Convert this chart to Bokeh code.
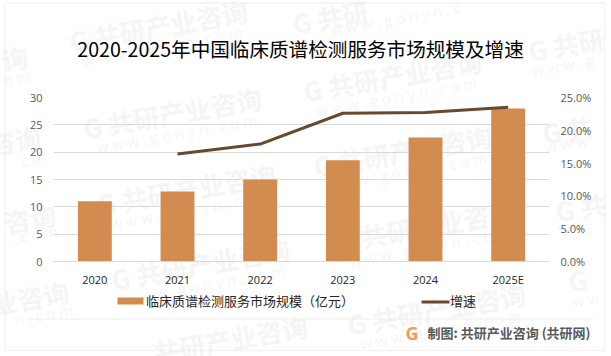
from bokeh.plotting import figure
from bokeh.layouts import column
from bokeh.models import (ColumnDataSource, FactorRange, Range1d, LinearAxis, NumeralTickFormatter,
                          Label, BoxAnnotation, Legend, LegendItem, FixedTicker)
from bokeh.embed import file_html
from bokeh.resources import INLINE

W, H = 611, 356
years = ["2020", "2021", "2022", "2023", "2024", "2025E"]
market = [11, 12.8, 15, 18.5, 22.7, 28]
growth_years = ["2021", "2022", "2023", "2024", "2025E"]
growth = [0.164, 0.179, 0.226, 0.227, 0.235]
left_ticks = [0, 5, 10, 15, 20, 25, 30]
right_ticks = [0, 0.05, 0.10, 0.15, 0.20, 0.25]
title = "2020-2025年中国临床质谱检测服务市场规模及增速"
bar_name = "临床质谱检测服务市场规模（亿元）"
line_name = "增速"
credit = "制图: 共研产业咨询 (共研网)"
WM = "G 共研产业咨询"
SUB = "w w w . g o n y n . c o m"
# watermark pieces: x, y, text, align, kind
watermarks = [
    (158, 25, WM, "center", "m"), (162, 46, SUB, "center", "s"),
    (172, 112, WM, "center", "m"), (176, 133, SUB, "center", "s"),
    (186, 188, WM, "center", "m"), (190, 209, SUB, "center", "s"),
    (200, 263, WM, "center", "m"), (204, 284, SUB, "center", "s"),
    (230, 338, "共研产业咨询", "center", "m"),
    (392, 75, WM, "center", "m"), (396, 96, SUB, "center", "s"),
    (402, 150, WM, "center", "m"), (406, 171, SUB, "center", "s"),
    (425, 225, WM, "center", "m"), (429, 246, SUB, "center", "s"),
    (436, 308, WM, "center", "m"), (440, 329, SUB, "center", "s"),
    (330, 16, "G 共研", "center", "m"), (395, 18, "w w w . g o n y n . c", "center", "s"),
    (528, 50, "G 共研", "left", "m"), (532, 70, "w w w . g", "left", "s"),
    (542, 133, "G 共", "left", "m"), (545, 147, "w w w", "left", "s"),
    (555, 211, "G 共", "left", "m"), (558, 228, "w w", "left", "s"),
    (568, 281, "G", "left", "m"), (572, 301, "w w", "left", "s"),
    (27, 55, "询", "right", "m"), (30, 75, "o m", "right", "s"),
    (40, 135, "咨询", "right", "m"), (40, 157, "c o", "right", "s"),
    (55, 213, "咨询", "right", "m"), (57, 230, ". c o m", "right", "s"),
    (68, 290, "业咨询", "right", "m"), (72, 309, "n . c o m", "right", "s"),
]

FONT = "Noto Sans CJK SC"
LATIN = "Open Sans"
BAR_COLOR = "#d28c4f"
LINE_COLOR = "#67492f"

# page-wide layer: frame, watermark, title, legend and footer
bg = figure(width=W, height=H, output_backend="svg", toolbar_location=None,
            x_range=Range1d(0, W), y_range=Range1d(0, H), x_axis_type=None, y_axis_type=None,
            min_border=0, outline_line_color=None, background_fill_color="white",
            border_fill_color="white", frame_align=False)
bg.xgrid.visible = False
bg.ygrid.visible = False


def lab(x, y, text, **kw):
    bg.add_layout(Label(x=x, y=H - y, x_units="screen", y_units="screen", text=text, **kw))


def box(x0, x1, y0, y1, **kw):
    bg.add_layout(BoxAnnotation(left=x0, right=x1, top=H - y0, bottom=H - y1,
                                left_units="screen", right_units="screen", top_units="screen",
                                bottom_units="screen", **kw))


for x, y, t, a, kind in watermarks:
    if kind == "m":
        lab(x, y, t, text_font=FONT, text_font_size="26px", text_font_style="bold",
            text_color="#f5f5f5", text_align=a, text_baseline="middle", angle=10, angle_units="deg")
    else:
        lab(x, y, t, text_font=LATIN, text_font_size="15px", text_color="#f5f5f5",
            text_align=a, text_baseline="middle", angle=10, angle_units="deg")

lab(300, 48, title, text_font=FONT, text_font_size="19.6px", text_color="#000000",
    text_align="center", text_baseline="middle")
lab(427, 332, credit, text_font=FONT, text_font_size="13px", text_font_style="bold",
    text_color="#595959", text_align="left", text_baseline="middle")
lab(411.5, 332.5, "G", text_font=LATIN, text_font_size="18px", text_font_style="bold",
    text_color="#f59a52", text_align="center", text_baseline="middle")
box(4.5, 604, 2.5, 350, fill_alpha=0, line_color="#d9d9d9", line_width=1.5)
box(25, 593, 318, 319, fill_color="#eeeeee", fill_alpha=1, line_color=None)

# legend: its labels come from the legend, its keys are drawn as swatches
box(117, 143, 297, 304, fill_color=BAR_COLOR, fill_alpha=1, line_color=None)
box(421, 449, 300, 303, fill_color=LINE_COLOR, fill_alpha=1, line_color=None)
key_bar = bg.vbar(x=[], top=[], width=1, fill_color=BAR_COLOR, line_color=None)
key_line = bg.line(x=[], y=[], line_color=LINE_COLOR, line_width=3)
legend = Legend(items=[LegendItem(label=bar_name, renderers=[key_bar]),
                       LegendItem(label=line_name, renderers=[key_line])],
                orientation="horizontal", location=(117, 46),
                background_fill_alpha=0, border_line_color=None,
                glyph_width=26, glyph_height=8, label_standoff=3, spacing=67,
                label_text_font=FONT, label_text_font_size="13px", label_text_color="#262626",
                padding=0, margin=0)
bg.add_layout(legend)

# chart layer, laid exactly over the page-wide layer
p = figure(width=W, height=H, output_backend="svg", toolbar_location=None,
           x_range=FactorRange(factors=years), y_range=Range1d(0, 30),
           min_border_left=53, min_border_right=62, min_border_top=97, min_border_bottom=95,
           outline_line_color=None, background_fill_color=None, border_fill_color=None,
           frame_align=False, styles={"position": "absolute", "top": "0px", "left": "0px"})
p.extra_y_ranges = {"pct": Range1d(0, 0.25)}

src_bar = ColumnDataSource(dict(x=years, y=market))
src_line = ColumnDataSource(dict(x=growth_years, y=growth))
p.vbar(x="x", top="y", width=0.41, source=src_bar, fill_color=BAR_COLOR, line_color=None)
p.line(x="x", y="y", source=src_line, line_color=LINE_COLOR, line_width=3, y_range_name="pct")

p.xgrid.visible = False
p.ygrid.grid_line_color = "#d9d9d9"
p.ygrid.ticker = FixedTicker(ticks=left_ticks)
ya = p.yaxis[0]
ya.ticker = FixedTicker(ticks=left_ticks)
ya.axis_line_color = None
ya.major_tick_line_color = None
ya.minor_tick_line_color = None
ya.major_label_text_color = "#595959"
ya.major_label_text_font = LATIN
ya.major_label_text_font_size = "11px"
ya.major_label_standoff = 5

right = LinearAxis(y_range_name="pct", ticker=FixedTicker(ticks=right_ticks),
                   formatter=NumeralTickFormatter(format="0.0%"),
                   axis_line_color=None, major_tick_line_color=None, minor_tick_line_color=None,
                   major_label_text_color="#595959", major_label_text_font=LATIN,
                   major_label_text_font_size="11px", major_label_standoff=5)
p.add_layout(right, "right")

xa = p.xaxis[0]
xa.axis_line_color = "#d9d9d9"
xa.major_tick_line_color = None
xa.minor_tick_line_color = None
xa.major_label_text_color = "#262626"
xa.major_label_text_font = LATIN
xa.major_label_text_font_size = "11px"
xa.major_label_standoff = 4

page = column(bg, p, spacing=0)
html = file_html(page, INLINE)
html = html.replace("</head>", "<style>html,body{margin:0;padding:0}</style></head>")
open("out.html", "w").write(html)
